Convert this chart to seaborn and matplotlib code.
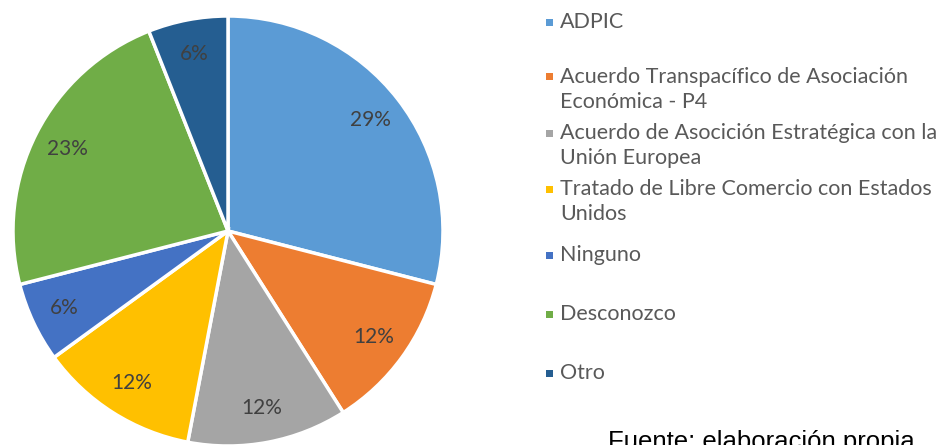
import matplotlib
matplotlib.use("Agg")
import matplotlib.pyplot as plt
import seaborn as sns

# data
categories = [
    "ADPIC",
    "Acuerdo Transpacífico de Asociación\nEconómica - P4",
    "Acuerdo de Asocición Estratégica con la\nUnión Europea",
    "Tratado de Libre Comercio con Estados\nUnidos",
    "Ninguno",
    "Desconozco",
    "Otro",
]
shares = [29, 12, 12, 12, 6, 23, 6]
colors = ["#5B9BD5", "#ED7D31", "#A5A5A5", "#FFC000", "#4472C4", "#70AD47", "#255E91"]
source_note = "Fuente: elaboración propia"

sns.set_theme(style="white")
plt.rcParams["font.family"] = ["Lato", "DejaVu Sans"]

W, H = 947, 445
fig = plt.figure(figsize=(W / 100, H / 100), dpi=100)

# pie: center (228, 231) px, radius 215 px
cx, cy, r = 228, 231, 215
ax = fig.add_axes([(cx - r) / W, (H - cy - r) / H, 2 * r / W, 2 * r / H])
palette = sns.color_palette(colors)
wedges, texts, autotexts = ax.pie(
    shares, colors=palette, startangle=90, counterclock=False,
    autopct="%.0f%%", pctdistance=0.84, radius=1,
    wedgeprops=dict(edgecolor="white", linewidth=2.5),
    textprops=dict(color="#404040", fontsize=15),
)
ax.set_xlim(-1, 1)
ax.set_ylim(-1, 1)
ax.set_aspect("equal")
ax.axis("off")

# legend drawn by hand to keep Excel's uneven spacing
legend_y = [22, 77, 133, 189, 255, 314, 373]
line_step = 25
for label, col, y in zip(categories, colors, legend_y):
    fig.patches.append(plt.Rectangle(((549 - 3.5) / W, 1 - (y + 3.5) / H), 7 / W, 7 / H,
                                     transform=fig.transFigure, facecolor=col,
                                     edgecolor="none"))
    for i, line in enumerate(label.split("\n")):
        fig.text(560 / W, 1 - (y + i * line_step) / H, line, color="#595959",
                 fontsize=15.5, va="center", ha="left")

fig.text(608 / W, 1 - 449 / H, source_note, family="Liberation Sans",
         fontsize=18.5, color="black", va="baseline", ha="left")

fig.savefig("out.png", dpi=100)
plt.close(fig)
